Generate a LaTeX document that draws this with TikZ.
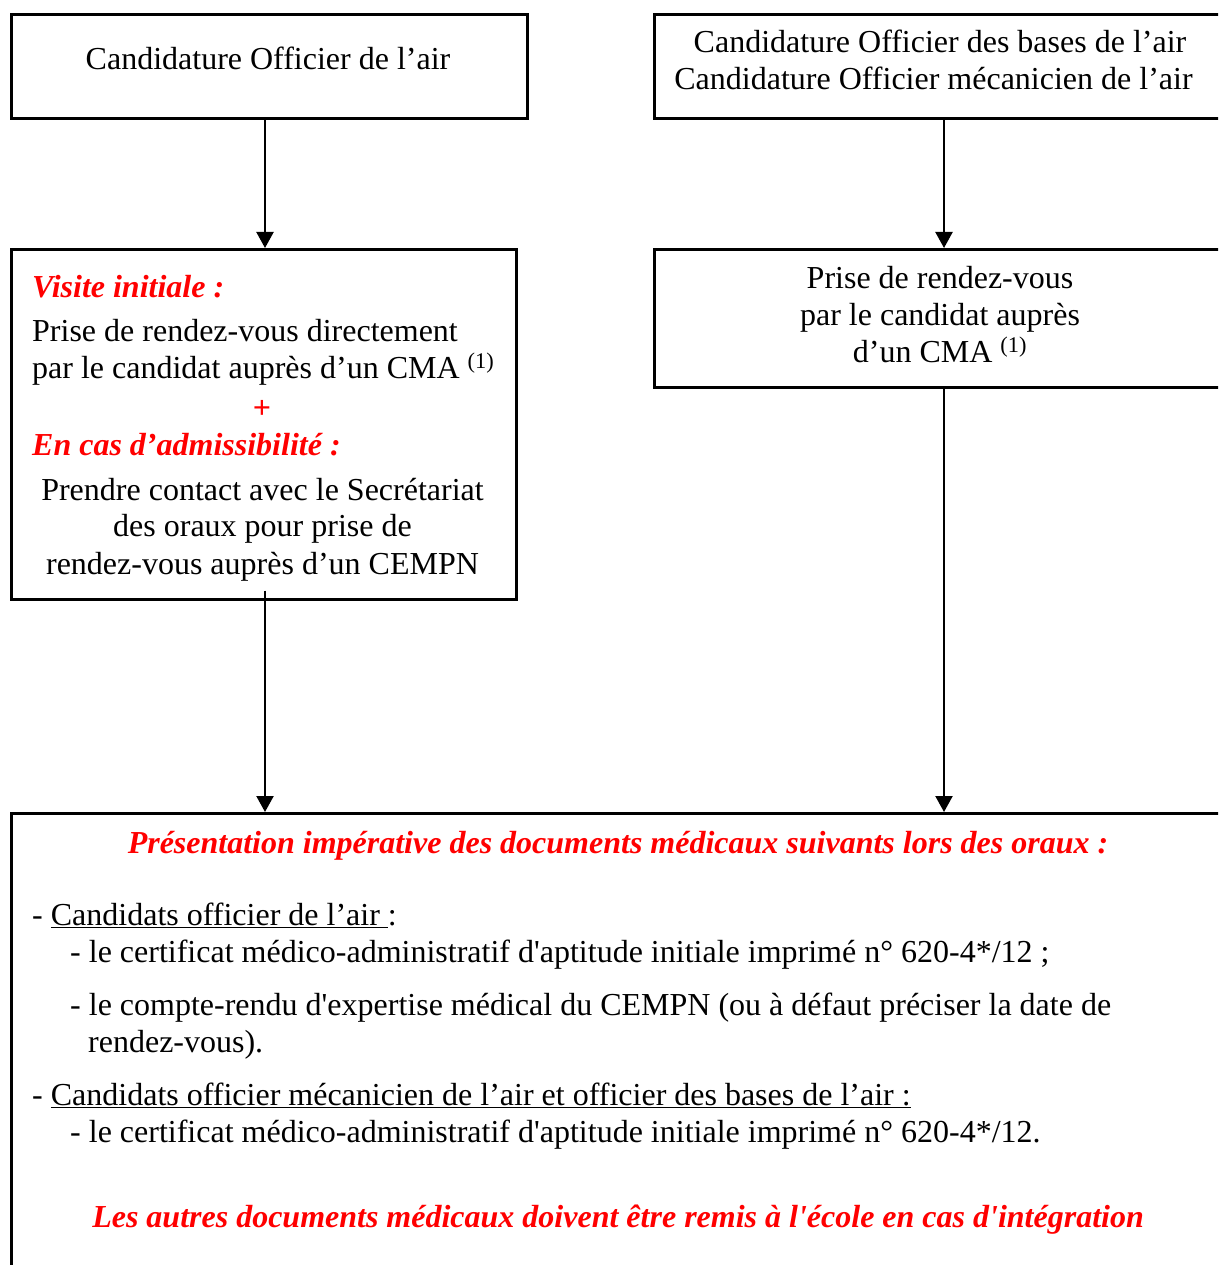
\documentclass[tikz,border=0pt]{standalone}
\usepackage{fontspec}
\setmainfont{Liberation Serif}
\usetikzlibrary{arrows.meta}
\definecolor{myred}{RGB}{255,0,0}
\newcommand{\sq}{\textquotesingle}
\begin{document}
\begin{tikzpicture}[x=1pt,y=-1pt,
  box/.style={draw,line width=2.6pt,anchor=north west,inner sep=0pt},
  txt/.style={anchor=base,inner sep=0pt,font=\fontsize{32}{37}\selectfont},
  txtl/.style={txt,anchor=base west},
  hl/.style={text=myred,font=\fontsize{32}{37}\selectfont\bfseries\itshape},
  arr/.style={line width=2.2pt,-{Triangle[length=16pt,width=17pt]}}]
\useasboundingbox (0,0) rectangle (1218,1265);
\clip (0,0) rectangle (1218,1265);
% boxes
\node[box,minimum width=516pt,minimum height=104pt] (b1) at (10,13) {};
\node[box,minimum width=600pt,minimum height=104pt] (b2) at (653,13) {};
\node[box,minimum width=505pt,minimum height=350pt] (b3) at (10,248) {};
\node[box,minimum width=600pt,minimum height=138pt] (b4) at (653,248) {};
\node[box,minimum width=1250pt,minimum height=500pt] (b5) at (10,812) {};
% arrow columns
\coordinate (cl) at (265,0);
\coordinate (cr) at (944,0);
\draw[arr] (b1.south -| cl) -- (b3.north -| cl);
\draw[arr] (b2.south -| cr) -- (b4.north -| cr);
\draw[arr] ([yshift=10pt]b3.south -| cl) -- (b5.north -| cl);
\draw[arr] (b4.south -| cr) -- (b5.north -| cr);
% box 1
\node[txt] (t1) at (268,70) {Candidature Officier de l’air};
% box 2
\node[txt] (t2a) at (940,53) {Candidature Officier des bases de l’air};
\node[txt] (t2b) at (933.5,90) {Candidature Officier mécanicien de l’air};
% box 3
\node[txtl,hl] (t3a) at (32,297) {Visite initiale :};
\node[txtl] (t3b) at (32,341) {Prise de rendez-vous directement};
\node[txtl] (t3c) at (32,378) {par le candidat auprès d’un CMA \textsuperscript{(1)}};
\node[txt,text=myred,font=\fontsize{32}{37}\selectfont\bfseries] (t3d) at (262,418) {+};
\node[txtl,hl] (t3e) at (32,455) {En cas d’admissibilité :};
\node[txt] (t3f) at (262.5,500) {Prendre contact avec le Secrétariat};
\node[txt] (t3g) at (262.5,536) {des oraux pour prise de};
\node[txt] (t3h) at (262.5,574) {rendez-vous auprès d’un CEMPN};
% box 4
\node[txt] (t4a) at (940,288) {Prise de rendez-vous};
\node[txt] (t4b) at (940,325) {par le candidat auprès};
\node[txt] (t4c) at (940,362) {d’un CMA \textsuperscript{(1)}};
% box 5
\node[txt,hl] (t5a) at (618,853) {Présentation impérative des documents médicaux suivants lors des oraux :};
\node[txtl] (t5b) at (32,925) {- \underline{Candidats officier de l’air\ }:};
\node[txtl] (t5c) at (70,962) {- le certificat médico-administratif d\sq aptitude initiale imprimé n° 620-4*/12 ;};
\node[txtl] (t5d) at (70,1015) {- le compte-rendu d\sq expertise médical du CEMPN (ou à défaut préciser la date de};
\node[txtl] (t5e) at (88,1052) {rendez-vous).};
\node[txtl] (t5f) at (32,1105) {- \underline{Candidats officier mécanicien de l’air et officier des bases de l’air :}};
\node[txtl] (t5g) at (70,1142) {- le certificat médico-administratif d\sq aptitude initiale imprimé n° 620-4*/12.};
\node[txt,hl] (t5h) at (618,1227) {Les autres documents médicaux doivent être remis à l\sq école en cas d\sq intégration};
\end{tikzpicture}
\end{document}
